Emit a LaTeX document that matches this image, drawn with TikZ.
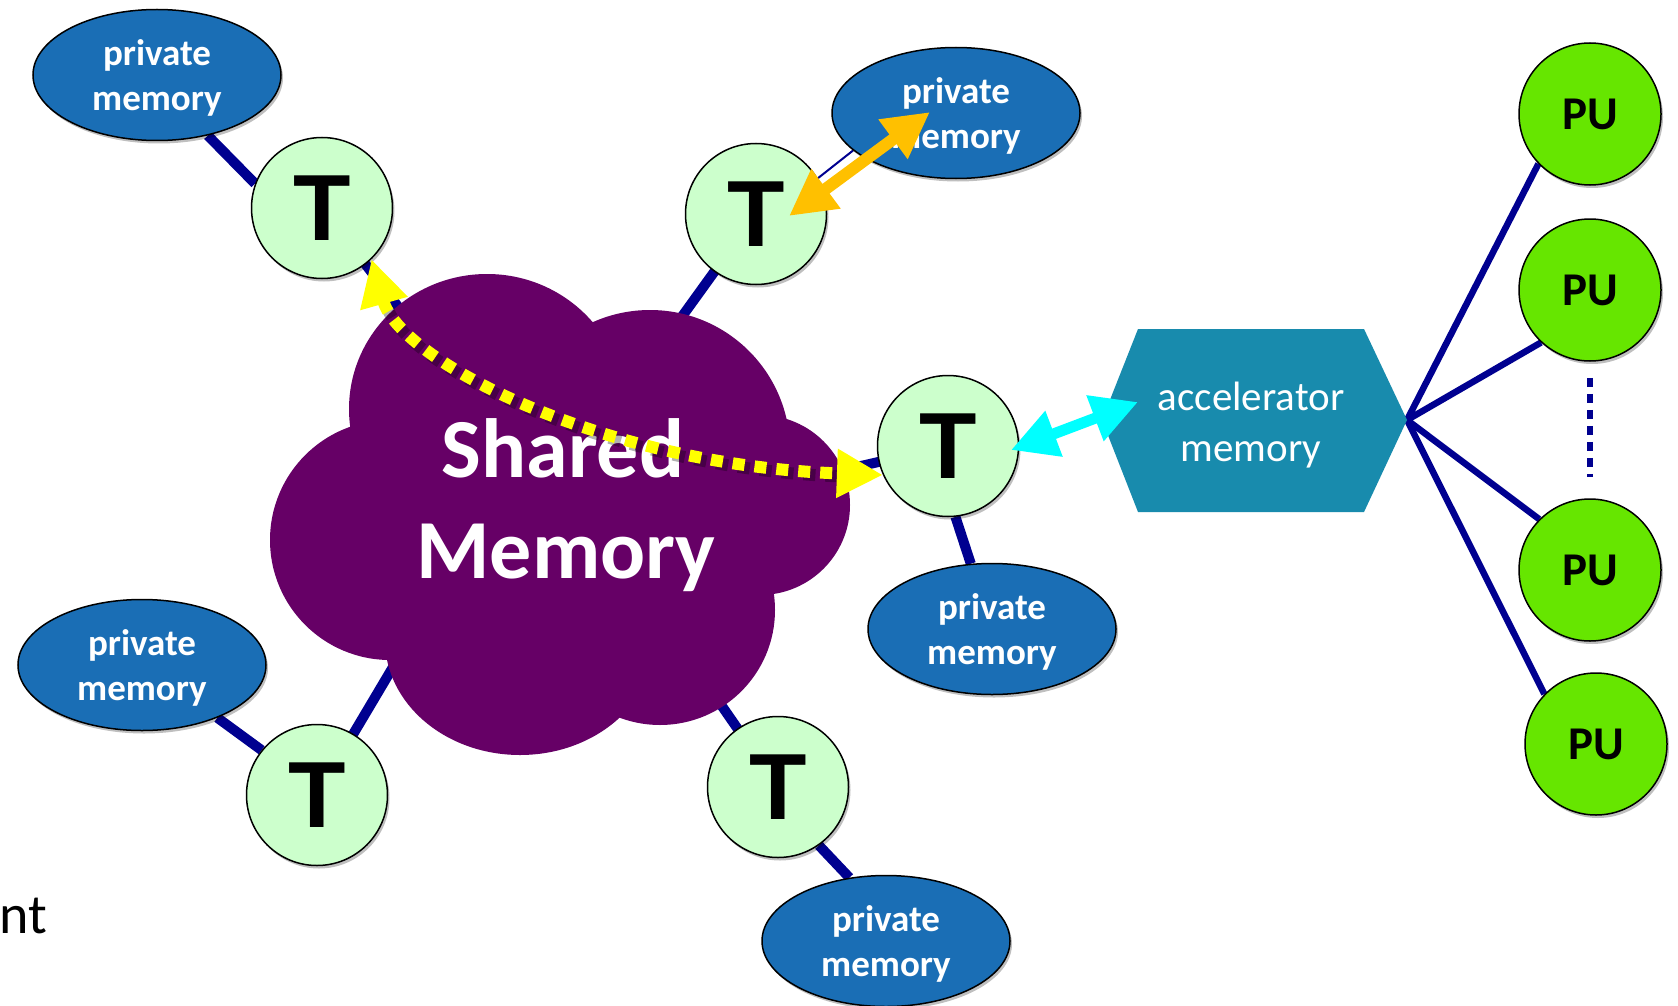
\documentclass[tikz,border=0pt]{standalone}
\usepackage{fontspec}
\setmainfont{Carlito}
\newfontfamily\tfont{Liberation Sans}
\usetikzlibrary{arrows.meta,shapes.geometric,shadows,calc}
\definecolor{pmblue}{RGB}{26,110,181}
\definecolor{tgreen}{RGB}{204,255,204}
\definecolor{pugreen}{RGB}{102,230,0}
\definecolor{cloudpurple}{RGB}{102,0,102}
\definecolor{hexteal}{RGB}{24,139,173}
\definecolor{navy}{RGB}{0,0,144}
\definecolor{aorange}{RGB}{255,192,0}
\definecolor{ayellow}{RGB}{255,255,0}
\definecolor{acyan}{RGB}{0,255,255}
\pgfdeclarelayer{bg}
\pgfdeclarelayer{lines}
\pgfdeclarelayer{cloudlayer}
\pgfdeclarelayer{front}
\pgfsetlayers{bg,lines,cloudlayer,main,front}
\begin{document}
\begin{tikzpicture}[x=1pt,y=-1pt,
  shadowed/.style={drop shadow={shadow xshift=2pt,shadow yshift=-3pt,opacity=0.25,fill=black}},
  pmtext/.style={text=white, font=\bfseries\fontsize{37}{45}\selectfont, align=center, yshift=-3pt, inner sep=0pt},
  pmem/.style={ellipse, fill=pmblue, draw=black, line width=1.5pt, minimum width=248pt, minimum height=131pt, inner sep=0pt, shadowed, label={[pmtext]center:{private\\memory}}},
  tnode/.style={circle, fill=tgreen, draw=black, line width=1.5pt, minimum size=141pt, inner sep=0pt, font=\tfont\bfseries\fontsize{94}{94}\selectfont, shadowed},
  punode/.style={circle, fill=pugreen, draw=black, line width=1.5pt, minimum size=142pt, inner sep=0pt, font=\bfseries\fontsize{47}{47}\selectfont, shadowed},
  navyline/.style={draw=navy, line width=10pt},
  thinline/.style={draw=navy, line width=2pt},
  puline/.style={draw=navy, line width=6.5pt},
  bigarrow/.style={line width=12pt, {Triangle[length=46pt,width=46pt]}-{Triangle[length=46pt,width=46pt]}},
]
\begin{pgfonlayer}{bg}
\fill[white] (0,0) rectangle (1678,1006);
\end{pgfonlayer}
\useasboundingbox (0,0) rectangle (1678,1006);

% private memories
\node[pmem] (PM1) at (157,75) {};
\node[pmem] (PM2) at (956,113) {};
\node[pmem] (PM3) at (992,629) {};
\node[pmem] (PM4) at (142,665) {};
\node[pmem] (PM5) at (886,941) {};

% threads
\node[tnode] (T1) at (322,208) {T};
\node[tnode] (T2) at (756,214) {T};
\node[tnode] (T3) at (948,446) {T};
\node[tnode] (T4) at (317,795) {T};
\node[tnode] (T5) at (778,787) {T};

% processing units
\node[punode] (PU1) at (1590,114) {PU};
\node[punode] (PU2) at (1590,290) {PU};
\node[punode] (PU3) at (1590,570) {PU};
\node[punode] (PU4) at (1596,744) {PU};

% accelerator memory hexagon
\fill[hexteal] (1102,420) -- (1138,329) -- (1364,329) -- (1407,420) -- (1364,512) -- (1138,512) -- cycle;
\node[text=white, font=\fontsize{41}{51}\selectfont, align=center] (accel) at (1251,425) {accelerator\\memory};
\coordinate (hub) at (1407,420);

% points inside the cloud where connectors end
\coordinate (k1) at (420,335);
\coordinate (k2) at (660,347);
\coordinate (k3) at (800,480);
\coordinate (k4) at (415,630);
\coordinate (k5) at (690,660);

\begin{pgfonlayer}{lines}
  \draw[navyline] (PM1.310) -- (T1.160);
  \draw[thinline] (T2.30) -- (PM2.200);
  \draw[navyline] (T3.276) -- (PM3.108);
  \draw[navyline] (PM4.325) -- (T4.141);
  \draw[navyline] (T5.305) -- (PM5.120);
  \draw[navyline] (T1.center) -- (k1);
  \draw[navyline] (T2.center) -- (k2);
  \draw[navyline] (T3.center) -- (k3);
  \draw[navyline] (T4.center) -- (k4);
  \draw[navyline] (T5.center) -- (k5);
  \draw[puline] (hub) -- (PU1.224);
  \draw[puline] (hub) -- (PU2.227);
  \draw[puline] (hub) -- (PU3.135);
  \draw[puline] (hub) -- (PU4.136);
  \draw[draw=navy, line width=6pt, dash pattern=on 9pt off 7pt] ([yshift=-16pt]PU2.south) -- ([yshift=21pt]PU3.north);
\end{pgfonlayer}

\begin{pgfonlayer}{cloudlayer}
  \fill[cloudpurple] (487,409) ellipse [x radius=138pt, y radius=135pt];
  \fill[cloudpurple] (650,450) circle [radius=140pt];
  \fill[cloudpurple] (760,505) circle [radius=90pt];
  \fill[cloudpurple] (660,610) circle [radius=115pt];
  \fill[cloudpurple] (520,640) ellipse [x radius=135pt, y radius=115pt];
  \fill[cloudpurple] (390,540) circle [radius=120pt];
  \fill[cloudpurple] (540,520) ellipse [x radius=200pt, y radius=160pt];
  \node[anchor=base, text=white, font=\bfseries\fontsize{84}{100}\selectfont, inner sep=0pt] (sh1) at (563,477) {Shared};
  \node[anchor=base, text=white, font=\bfseries\fontsize{84}{100}\selectfont, inner sep=0pt] (sh2) at (566,578) {Memory};
\end{pgfonlayer}

\begin{pgfonlayer}{front}
  \draw[black, opacity=0.3, line width=12pt, dash pattern=on 12pt off 10pt, shorten <=46pt, shorten >=46pt, transform canvas={shift={(3pt,-3pt)}}]
    (T1.314) .. controls (400,360) and (600,465) .. (T3.204);
  \draw[bigarrow, draw=ayellow, line width=12pt, dash pattern=on 12pt off 10pt]
    (T1.314) .. controls (400,360) and (600,465) .. (T3.204);
  \draw[bigarrow, draw=aorange]
    ([shift={(33,2)}]T2.center) -- ([shift={(-26,-1)}]PM2.center);
  \draw[bigarrow, draw=acyan, line width=11pt]
    ([shift={(63,4)}]T3.center) -- ([shift={(-113,-23)}]accel.center);
\end{pgfonlayer}

\node[anchor=base west, font=\fontsize{56}{60}\selectfont, inner sep=0pt] (nt) at (-1,933) {nt};
\end{tikzpicture}
\end{document}
